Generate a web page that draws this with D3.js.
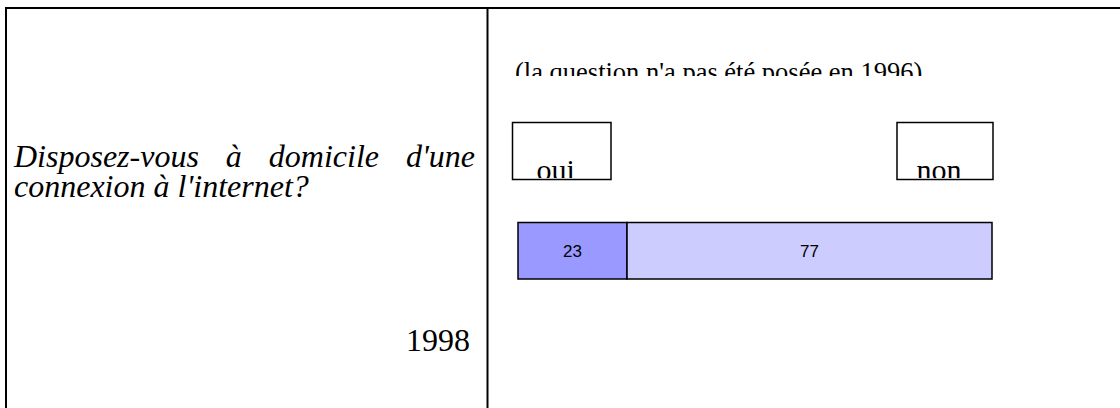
<!DOCTYPE html>
<html><head><meta charset="utf-8">
<script src="https://cdn.jsdelivr.net/npm/d3@7"></script>
<style>body{margin:0;background:#fff}svg{display:block}</style>
</head><body>
<svg id="c" width="1120" height="408"></svg>
<script>
const categories = ["oui", "non"];
const values = [23, 77];
const barColors = ["#9999FF", "#CCCCFF"];
const questionLines = ["Disposez-vous à domicile d'une", "connexion à l'internet?"];
const yearLabel = "1998";
const note = "(la question n'a pas été posée en 1996)";

const svg = d3.select("#c");
const serif = "'Liberation Serif','Times New Roman',serif";
const sans = "'Liberation Sans',Arial,sans-serif";

// table borders
svg.append("line").attr("x1",5).attr("x2",1120).attr("y1",8).attr("y2",8).attr("stroke","#000").attr("stroke-width",2);
svg.append("line").attr("x1",6).attr("x2",6).attr("y1",7).attr("y2",408).attr("stroke","#000").attr("stroke-width",2);
svg.append("line").attr("x1",487.5).attr("x2",487.5).attr("y1",7).attr("y2",408).attr("stroke","#000").attr("stroke-width",2);

// question text (first line justified) as one text element
const qSize = 32, qLeft = 14, qRight = 475;
const qText = svg.append("text").attr("font-family", serif).attr("font-style","italic")
  .attr("font-size", qSize).attr("fill","#000");
questionLines.forEach((line, li) => {
  const y = 167 + li * 30;
  if (li === 0) {
    const words = line.split(" ");
    const spans = words.map(w => qText.append("tspan").attr("x", qLeft).attr("y", y).text(w));
    const widths = spans.map(t => t.node().getComputedTextLength());
    const gap = (qRight - qLeft - d3.sum(widths)) / (words.length - 1);
    let x = qLeft;
    spans.forEach((t, i) => { t.attr("x", x); x += widths[i] + gap; });
  } else {
    qText.append("tspan").attr("x", qLeft).attr("y", y).text(line);
  }
});
svg.append("text").attr("x", 470).attr("y", 351).attr("text-anchor","end")
  .attr("font-family", serif).attr("font-size", 32).text(yearLabel);

// clipped note
const defs = svg.append("defs");
defs.append("clipPath").attr("id","noteClip").append("rect").attr("x",490).attr("y",40).attr("width",600).attr("height",36);
svg.append("text").attr("clip-path","url(#noteClip)").attr("x",515).attr("y",81)
  .attr("font-family", serif).attr("font-size", 26.5).text(note);

// x scale for stacked bar
const x = d3.scaleLinear().domain([0, 100]).range([518, 992]);
const stack = [];
let acc = 0;
values.forEach((v, i) => { stack.push({cat: categories[i], v, x0: acc, x1: acc + v, color: barColors[i]}); acc += v; });

// legend-like boxes (clipped labels)
const boxes = [{cat: categories[0], x: 512.5, w: 98.5}, {cat: categories[1], x: 897, w: 96}];
boxes.forEach((b, i) => {
  const id = "bc" + i;
  defs.append("clipPath").attr("id", id).append("rect").attr("x", b.x).attr("y", 123).attr("width", b.w).attr("height", 55);
  svg.append("rect").attr("x", b.x).attr("y", 122.5).attr("width", b.w).attr("height", 57)
    .attr("fill","#fff").attr("stroke","#000").attr("stroke-width",1.5);
  svg.append("text").attr("clip-path", `url(#${id})`).attr("x", b.x + b.w/2 - 6).attr("y", 180)
    .attr("text-anchor","middle").attr("font-family", serif).attr("font-size", 30).text(b.cat);
});

// bar
const barY = 222.5, barH = 56.5;
svg.selectAll("rect.seg").data(stack).join("rect").attr("class","seg")
  .attr("x", d => x(d.x0)).attr("y", barY).attr("width", d => x(d.x1) - x(d.x0)).attr("height", barH)
  .attr("fill", d => d.color).attr("stroke","#000").attr("stroke-width",1.5);
svg.selectAll("text.lab").data(stack).join("text").attr("class","lab")
  .attr("x", d => (x(d.x0) + x(d.x1)) / 2).attr("y", barY + barH/2 + 6)
  .attr("text-anchor","middle").attr("font-family", sans).attr("font-size", 17).text(d => d.v);
</script>
</body></html>
